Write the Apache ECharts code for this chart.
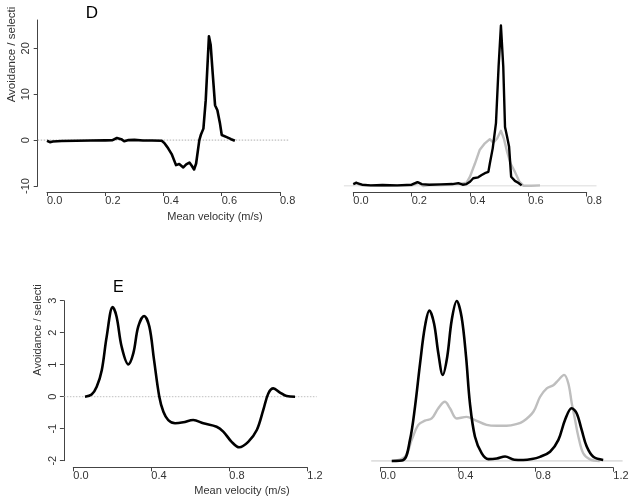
<!DOCTYPE html>
<html>
<head>
<meta charset="utf-8">
<script src="https://cdn.jsdelivr.net/npm/echarts/dist/echarts.min.js"></script>
<style>html,body{margin:0;padding:0;background:#fff}#c{width:634px;height:504px}</style>
</head>
<body>
<div id="c"></div>
<script>
// ---- Panel D, left: avoidance / selection vs mean velocity ----
const dLeftX = [0.000,0.010,0.020,0.050,0.100,0.150,0.200,0.225,0.240,0.255,0.265,0.280,0.300,0.330,0.360,0.394,0.404,0.416,0.428,0.443,0.454,0.468,0.478,0.489,0.497,0.505,0.512,0.523,0.528,0.537,0.545,0.556,0.562,0.569,0.577,0.585,0.594,0.600,0.619,0.632,0.645];
const dLeftY = [-0.15,-0.45,-0.3,-0.2,-0.15,-0.1,-0.05,0.0,0.45,0.2,-0.25,0.0,0.05,-0.1,-0.1,-0.15,-0.72,-1.8,-3.05,-5.45,-5.2,-5.95,-5.3,-4.9,-5.6,-6.4,-5.1,0.0,1.1,2.5,8.7,22.6,20.7,14.5,7.6,6.5,3.6,1.1,0.6,0.2,-0.15];
// ---- Panel D, right: distributions (black and grey) ----
const dRightBlackX = [0.000,0.010,0.030,0.060,0.100,0.150,0.200,0.220,0.235,0.260,0.300,0.340,0.360,0.375,0.388,0.400,0.411,0.428,0.440,0.451,0.463,0.468,0.478,0.489,0.498,0.506,0.514,0.520,0.527,0.534,0.541,0.554,0.565,0.577];
const dRightBlackY = [0.3,0.5,0.2,0.1,0.15,0.1,0.2,0.6,0.3,0.2,0.25,0.3,0.45,0.2,0.3,0.67,1.2,1.35,1.7,2.0,2.2,3.5,5.9,9.8,18.6,25,18.6,9.2,7.7,6.1,1.45,0.8,0.5,0.1];
const dRightGreyX = [0.000,0.010,0.020,0.050,0.100,0.200,0.225,0.240,0.260,0.300,0.350,0.370,0.388,0.400,0.417,0.433,0.451,0.468,0.480,0.493,0.506,0.516,0.527,0.539,0.554,0.569,0.583,0.610,0.640];
const dRightGreyY = [0.2,0.6,0.2,0.1,0.05,0.1,0.5,0.0,0.15,0.15,0.3,0.35,0.5,1.45,3.5,5.6,6.65,7.3,6.75,7.4,8.6,7.4,5.35,3.5,2.2,0.7,0.05,0.05,0.1];
// ---- Panel E, left ----
const eLeftX = [0.06,0.094,0.12,0.146,0.171,0.202,0.222,0.248,0.282,0.308,0.333,0.363,0.39,0.414,0.441,0.462,0.487,0.522,0.564,0.615,0.667,0.735,0.769,0.812,0.851,0.897,0.941,0.974,1.0,1.026,1.06,1.094,1.137];
const eLeftY = [0,0.07,0.31,0.83,1.87,2.8,2.5,1.56,1.01,1.36,2.19,2.52,2.19,1.15,0,-0.47,-0.73,-0.83,-0.8,-0.73,-0.83,-0.94,-1.09,-1.41,-1.58,-1.41,-1.04,-0.42,0.1,0.26,0.13,0.02,0.0];
// ---- Panel E, right ----
const eRightBlackX = [0.058,0.118,0.152,0.178,0.204,0.229,0.252,0.276,0.298,0.321,0.344,0.367,0.393,0.418,0.441,0.461,0.487,0.522,0.556,0.600,0.642,0.690,0.736,0.780,0.822,0.874,0.917,0.951,0.985,1.011,1.037,1.063,1.097,1.148];
const eRightBlackY = [0,0.03,0.66,1.7,3.05,4.2,4.7,4.3,3.37,2.69,3.26,4.4,5.0,4.5,3.26,1.8,0.76,0.24,0.06,0.08,0.14,0.04,0.03,0.06,0.13,0.29,0.66,1.28,1.65,1.49,0.97,0.45,0.13,0.03];
const eRightGreyX = [0.058,0.126,0.161,0.195,0.229,0.264,0.298,0.332,0.358,0.393,0.444,0.487,0.547,0.600,0.650,0.700,0.736,0.788,0.822,0.857,0.891,0.917,0.946,0.968,0.986,1.003,1.020,1.045,1.080,1.130];
const eRightGreyY = [0,0.13,0.66,1.13,1.26,1.33,1.65,1.85,1.65,1.33,1.38,1.28,1.13,1.1,1.1,1.15,1.24,1.54,2.0,2.27,2.37,2.53,2.69,2.43,1.8,1.28,0.76,0.24,0.05,0.0];
// ---- tick labels ----
const dXTicks = [0.0,0.2,0.4,0.6,0.8];
const eXTicks = [0.0,0.4,0.8,1.2];
const dYTicks = [-10,0,10,20];
const eYTicks = [-2,-1,0,1,2,3];
const zeroLine = [[0,0],[1,0]];
const xTitle = 'Mean velocity (m/s)';
const yTitle = 'Avoidance / selecti';

const FONT = 'Liberation Sans, Arial, Helvetica, sans-serif';
const zip = (xs, ys) => xs.map((x, i) => [x, ys[i]]);

const grids = [
  {left: 47, top: 20, width: 233, height: 166},        // 0 D left
  {left: 353.3, top: 20, width: 233.4, height: 166},   // 1 D right
  {left: 73.3, top: 300.7, width: 234, height: 160},   // 2 E left
  {left: 380.5, top: 301, width: 232.8, height: 160},  // 3 E right
  {left: 37.7, top: 20, width: 251.3, height: 166},    // 4 D left ref line
  {left: 343.9, top: 20, width: 252.6, height: 166},   // 5 D right baseline
  {left: 63.9, top: 300.7, width: 252.8, height: 160}, // 6 E left ref line
  {left: 371.2, top: 301, width: 251.4, height: 160}   // 7 E right baseline
];

function xAx(g, max, ticks, offset) {
  return {
    type: 'value', gridIndex: g, min: 0, max: max, interval: ticks[1] - ticks[0], offset: offset,
    axisLine: {show: true, onZero: false, lineStyle: {color: '#444', width: 1}},
    axisTick: {show: true, length: 4, lineStyle: {color: '#444', width: 1}},
    axisLabel: {show: true, align: 'left', margin: 3, color: '#333', fontSize: 11, fontFamily: FONT,
      showMinLabel: true, showMaxLabel: true, formatter: v => v.toFixed(1)},
    splitLine: {show: false}
  };
}
function hidden(g, min, max) {
  return {type: 'value', gridIndex: g, min: min, max: max, show: false, axisLine: {onZero: false}, splitLine: {show: false}};
}
function yAx(g, min, max, ticks, offset, margin) {
  return {
    type: 'value', gridIndex: g, min: min, max: max, offset: offset,
    axisLine: {show: true, onZero: false, lineStyle: {color: '#444', width: 1}},
    axisTick: {show: true, length: 4, customValues: ticks, lineStyle: {color: '#444', width: 1}},
    axisLabel: {show: true, rotate: 90, margin: margin, customValues: ticks, color: '#333', fontSize: 11, fontFamily: FONT},
    splitLine: {show: false}
  };
}

const dLMax = -10 + 166 / 4.59;
const dRMax = 166 / 6.42;

const option = {
  animation: false,
  backgroundColor: '#fff',
  grid: grids,
  xAxis: [
    xAx(0, 0.8, dXTicks, 6),
    xAx(1, 0.8, dXTicks, 6.5),
    xAx(2, 1.2, eXTicks, 6.6),
    xAx(3, 1.2, eXTicks, 6.7),
    hidden(4, 0, 1), hidden(5, 0, 1), hidden(6, 0, 1), hidden(7, 0, 1)
  ],
  yAxis: [
    yAx(0, -10, dLMax, dYTicks, 9.3, 6),
    hidden(1, 0, dRMax),
    yAx(2, -2, 3, eYTicks, 9.4, 5),
    hidden(3, 0, 5),
    hidden(4, -10, dLMax), hidden(5, 0, dRMax), hidden(6, -2, 3), hidden(7, 0, 5)
  ],
  series: [
    {type: 'line', xAxisIndex: 4, yAxisIndex: 4, data: zeroLine, symbol: 'none', silent: true,
      lineStyle: {color: '#9a9a9a', width: 0.8, type: [1.5, 1.5]}},
    {type: 'line', xAxisIndex: 5, yAxisIndex: 5, data: zeroLine, symbol: 'none', silent: true,
      lineStyle: {color: '#cfcfcf', width: 1.2}},
    {type: 'line', xAxisIndex: 6, yAxisIndex: 6, data: zeroLine, symbol: 'none', silent: true,
      lineStyle: {color: '#b0b0b0', width: 0.8, type: [1.5, 1.5]}},
    {type: 'line', xAxisIndex: 7, yAxisIndex: 7, data: zeroLine, symbol: 'none', silent: true,
      lineStyle: {color: '#d5d5d5', width: 1.5}},
    {type: 'line', xAxisIndex: 0, yAxisIndex: 0, data: zip(dLeftX, dLeftY), symbol: 'none', clip: false,
      lineStyle: {color: '#000', width: 2.6, join: 'round'}},
    {type: 'line', xAxisIndex: 1, yAxisIndex: 1, data: zip(dRightGreyX, dRightGreyY), symbol: 'none', clip: false,
      lineStyle: {color: '#bebebe', width: 2.4, join: 'round'}},
    {type: 'line', xAxisIndex: 1, yAxisIndex: 1, data: zip(dRightBlackX, dRightBlackY), symbol: 'none', clip: false,
      lineStyle: {color: '#000', width: 2.4, join: 'round'}},
    {type: 'line', xAxisIndex: 2, yAxisIndex: 2, data: zip(eLeftX, eLeftY), symbol: 'none', clip: false,
      smooth: 0.35, lineStyle: {color: '#000', width: 2.6}},
    {type: 'line', xAxisIndex: 3, yAxisIndex: 3, data: zip(eRightGreyX, eRightGreyY), symbol: 'none', clip: false,
      smooth: 0.35, lineStyle: {color: '#bebebe', width: 2.4}},
    {type: 'line', xAxisIndex: 3, yAxisIndex: 3, data: zip(eRightBlackX, eRightBlackY), symbol: 'none', clip: false,
      smooth: 0.35, lineStyle: {color: '#000', width: 2.6}}
  ],
  graphic: [
    {type: 'text', x: 92, y: 13.5, style: {text: 'D', fontSize: 17, fontFamily: FONT, fill: '#000', align: 'center', verticalAlign: 'middle'}},
    {type: 'text', x: 118.3, y: 288, style: {text: 'E', fontSize: 16, fontFamily: FONT, fill: '#000', align: 'center', verticalAlign: 'middle'}},
    {type: 'text', x: 215, y: 217, style: {text: xTitle, fontSize: 11, fontFamily: FONT, fill: '#333', align: 'center', verticalAlign: 'middle'}},
    {type: 'text', x: 242, y: 490.5, style: {text: xTitle, fontSize: 11, fontFamily: FONT, fill: '#333', align: 'center', verticalAlign: 'middle'}},
    {type: 'text', x: 12, y: 54.5, rotation: Math.PI / 2, style: {text: yTitle, fontSize: 11.5, fontFamily: FONT, fill: '#333', align: 'center', verticalAlign: 'middle'}},
    {type: 'text', x: 38.3, y: 330, rotation: Math.PI / 2, style: {text: yTitle, fontSize: 11, fontFamily: FONT, fill: '#333', align: 'center', verticalAlign: 'middle'}}
  ]
};

const chart = echarts.init(document.getElementById('c'), null, {renderer: 'canvas', width: 634, height: 504});
chart.setOption(option);
</script>
</body>
</html>
